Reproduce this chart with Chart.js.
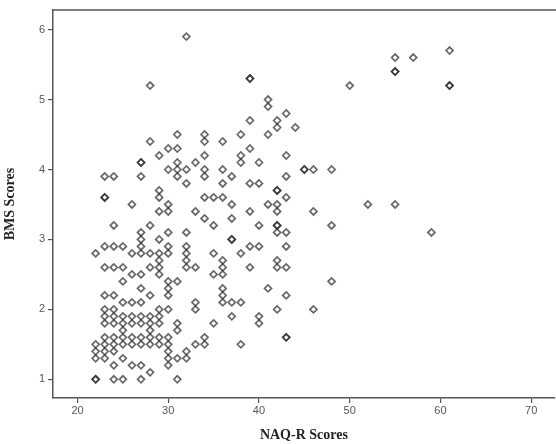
<!DOCTYPE html>
<html>
<head>
<meta charset="utf-8">
<script src="https://cdn.jsdelivr.net/npm/chart.js@4.4.1/dist/chart.umd.min.js"></script>
<style>
  html, body { margin: 0; padding: 0; background: #fff; overflow: hidden; }
  #wrap { width: 560px; height: 444px; }
</style>
</head>
<body>
<div id="wrap"><canvas id="c" width="560" height="444"></canvas></div>
<script>
// NAQ-R score of each respondent (x) and matching BMS score (y)
const naqR = [
  22,22,22,22,22,22,
  23,23,23,23,23,23,23,23,23,23,23,23,23,
  24,24,24,24,24,24,24,24,24,24,24,24,24,
  25,25,25,25,25,25,25,25,25,25,25,
  26,26,26,26,26,26,26,26,26,
  27,27,27,27,27,27,27,27,27,27,27,27,27,27,27,27,
  28,28,28,28,28,28,28,28,28,28,28,28,
  29,29,29,29,29,29,29,29,29,29,29,29,29,29,
  30,30,30,30,30,30,30,30,30,30,30,30,30,30,30,30,
  31,31,31,31,31,31,31,31,31,31,
  32,32,32,32,32,32,32,32,32,32,
  33,33,33,33,33,33,
  34,34,34,34,34,34,34,34,34,
  35,35,35,35,35,
  36,36,36,36,36,36,36,36,36,36,
  37,37,37,37,37,37,37,
  38,38,38,38,38,38,
  39,39,39,39,39,39,39,39,
  40,40,40,40,40,40,
  41,41,41,41,41,
  42,42,42,42,42,42,42,42,42,42,42,42,
  43,43,43,43,43,43,43,43,43,43,
  44,
  45,45,
  46,46,46,
  48,48,48,
  50,
  52,
  55,55,55,55,
  57,
  59,
  61,61,61
];
const bms = [
  1.0,1.0,1.3,1.4,1.5,2.8,
  1.3,1.4,1.5,1.6,1.8,1.9,2.0,2.2,2.6,2.9,3.6,3.6,3.9,
  1.0,1.2,1.4,1.5,1.6,1.8,1.9,2.0,2.2,2.6,2.9,3.2,3.9,
  1.0,1.3,1.5,1.6,1.7,1.8,1.9,2.1,2.4,2.6,2.9,
  1.2,1.5,1.6,1.8,1.9,2.1,2.5,2.8,3.5,
  1.0,1.2,1.5,1.6,1.8,1.9,2.1,2.3,2.5,2.8,2.9,3.0,3.1,3.9,4.1,4.1,
  1.1,1.5,1.6,1.7,1.8,1.9,2.2,2.6,2.8,3.2,4.4,5.2,
  1.5,1.6,1.8,1.9,2.0,2.5,2.6,2.7,2.8,3.0,3.4,3.6,3.7,4.2,
  1.2,1.3,1.4,1.5,1.6,2.0,2.2,2.3,2.4,2.8,2.9,3.1,3.4,3.5,4.0,4.3,
  1.0,1.3,1.7,1.8,2.4,3.9,4.0,4.1,4.3,4.5,
  1.3,1.4,2.6,2.7,2.8,2.9,3.1,3.8,4.0,5.9,
  1.5,2.0,2.1,2.6,3.4,4.1,
  1.5,1.6,3.3,3.6,3.9,4.0,4.2,4.4,4.5,
  1.8,2.5,2.8,3.2,3.6,
  2.1,2.2,2.3,2.5,2.6,2.7,3.6,3.8,4.0,4.4,
  1.9,2.1,3.0,3.0,3.3,3.5,3.9,
  1.5,2.1,2.8,4.1,4.2,4.5,
  2.6,2.9,3.4,3.8,4.3,4.7,5.3,5.3,
  1.8,1.9,2.9,3.2,3.8,4.1,
  2.3,3.5,4.5,4.9,5.0,
  2.0,2.6,2.7,3.1,3.2,3.2,3.4,3.5,3.7,3.7,4.6,4.7,
  1.6,1.6,2.2,2.6,2.9,3.1,3.6,3.9,4.2,4.8,
  4.6,
  4.0,4.0,
  2.0,3.4,4.0,
  2.4,3.2,4.0,
  5.2,
  3.5,
  3.5,5.4,5.4,5.6,
  5.6,
  3.1,
  5.2,5.2,5.7
];
const xTicks = [20, 30, 40, 50, 60, 70];
const yTicks = [1, 2, 3, 4, 5, 6];
const xTitle = 'NAQ-R Scores';
const yTitle = 'BMS Scores';

const points = naqR.map((x, i) => ({ x: x, y: bms[i] }));

const topBorder = {
  id: 'topBorder',
  afterDraw(chart) {
    const { ctx, chartArea } = chart;
    ctx.save();
    ctx.strokeStyle = '#555';
    ctx.lineWidth = 1.5;
    ctx.beginPath();
    ctx.moveTo(chartArea.left, chartArea.top);
    ctx.lineTo(chartArea.right + 2, chartArea.top);
    ctx.stroke();
    ctx.restore();
  }
};

const tickFont = { family: '"Liberation Sans", Arial, sans-serif', size: 11 };
const titleFont = { family: '"Liberation Serif", "Times New Roman", serif', size: 14, weight: 'bold' };

new Chart(document.getElementById('c'), {
  type: 'scatter',
  data: {
    datasets: [{
      data: points,
      pointStyle: 'rectRot',
      pointRadius: 3.5,
      pointBorderWidth: 1.7,
      pointBorderColor: 'rgba(40,40,40,0.7)',
      pointBackgroundColor: 'rgba(255,255,255,0)',
      pointHoverRadius: 3.5
    }]
  },
  options: {
    responsive: false,
    animation: false,
    events: [],
    layout: { padding: { top: 10, right: 2, left: 0, bottom: 0 } },
    plugins: { legend: { display: false }, tooltip: { enabled: false } },
    scales: {
      x: {
        type: 'linear',
        min: 17.3,
        max: 72.6,
        afterBuildTicks: s => { s.ticks = xTicks.map(v => ({ value: v })); },
        afterFit: s => { s.height = 46; },
        grid: { display: true, drawOnChartArea: false, drawTicks: true, tickLength: 5, color: '#555', lineWidth: 1.2 },
        border: { display: true, color: '#555', width: 1.5 },
        ticks: { color: '#555', font: tickFont, padding: 1, maxRotation: 0, autoSkip: false },
        title: { display: true, text: xTitle, color: '#222', font: titleFont, padding: { top: 0, bottom: 0 } }
      },
      y: {
        type: 'linear',
        min: 0.733,
        max: 6.28,
        afterBuildTicks: s => { s.ticks = yTicks.map(v => ({ value: v })); },
        afterFit: s => { s.width = 53; },
        grid: { display: true, drawOnChartArea: false, drawTicks: true, tickLength: 5, color: '#555', lineWidth: 1.2 },
        border: { display: true, color: '#555', width: 1.5 },
        ticks: { color: '#555', font: tickFont, padding: 3, autoSkip: false },
        title: { display: true, text: yTitle, color: '#222', font: titleFont, padding: { top: 2, bottom: 0 } }
      }
    }
  },
  plugins: [topBorder]
});
</script>
</body>
</html>
